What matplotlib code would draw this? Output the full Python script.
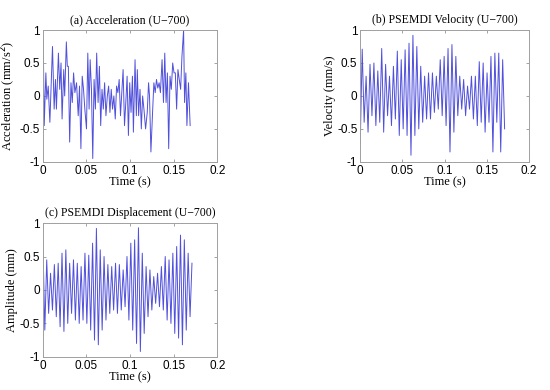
import numpy as np
import matplotlib.pyplot as plt

# (a) acceleration, extrema (time in s, value in mm/s^2)
acc_t = [0.0004, 0.0015, 0.0034, 0.0045, 0.0061, 0.0080, 0.0110, 0.0129, 0.0144, 0.0155,
         0.0178, 0.0193, 0.0208, 0.0220, 0.0239, 0.0250, 0.0269, 0.0280, 0.0292, 0.0307,
         0.0322, 0.0337, 0.0352, 0.0367, 0.0386, 0.0405, 0.0420, 0.0436, 0.0451, 0.0466,
         0.0481, 0.0500, 0.0515, 0.0530, 0.0542, 0.0557, 0.0572, 0.0587, 0.0602, 0.0617,
         0.0633, 0.0648, 0.0663, 0.0678, 0.0693, 0.0708, 0.0723, 0.0739, 0.0754, 0.0769,
         0.0784, 0.0799, 0.0814, 0.0830, 0.0845, 0.0860, 0.0875, 0.0890, 0.0905, 0.0920,
         0.0936, 0.0951, 0.0966, 0.0981, 0.0996, 0.1011, 0.1027, 0.1038, 0.1057, 0.1072,
         0.1083, 0.1098, 0.1114, 0.1129, 0.1144, 0.1159, 0.1178, 0.1197, 0.1212, 0.1223,
         0.1239, 0.1258, 0.1273, 0.1288, 0.1303, 0.1318, 0.1333, 0.1348, 0.1367, 0.1383,
         0.1398, 0.1413, 0.1428, 0.1443, 0.1458, 0.1473, 0.1489, 0.1504, 0.1519, 0.1534,
         0.1549, 0.1564, 0.1580, 0.1595, 0.1614, 0.1625, 0.1640, 0.1652, 0.1670, 0.1689]
acc_v = [0.85, -0.45, 0.35, -0.05, 0.15, -0.4, 0.75, -0.2, 0.25, -0.2,
         0.65, 0.1, 0.5, -0.35, 0.4, 0.0, 0.82, 0.45, 0.45, -0.7,
         0.2, -0.1, 0.35, 0.05, 0.2, -0.3, 0.15, -0.8, 0.3, 0.1,
         -0.2, -0.5, 0.65, -0.2, 0.55, 0.1, -0.95, 0.25, -0.2, 0.65,
         -0.1, 0.45, -0.45, 0.1, -0.2, 0.2, -0.3, 0.0, 0.15, -0.25,
         0.1, -0.2, 0.0, -0.35, 0.15, 0.05, 0.25, -0.3, 0.05, 0.4,
         -0.45, -0.1, 0.3, -0.6, 0.2, -0.25, 0.3, -0.55, 0.55, -0.3,
         0.4, -0.3, 0.1, -0.5, 0.0, -0.2, -0.5, -0.25, 0.2, 0.0,
         -0.85, -0.25, 0.2, 0.05, 0.25, 0.12, 0.2, 0.05, 0.55, -0.1,
         0.65, -0.1, 0.35, -0.8, 0.3, 0.1, 0.5, 0.35, 0.35, -0.2,
         0.4, 0.25, 0.1, 0.6, 1.0, -0.1, 0.35, -0.45, 0.2, -0.45]

# (b) PSEMDI velocity, successive peaks/troughs (mm/s)
vel_v = [-0.72, 0.71, -0.4, 0.3, -0.55, 0.48, -0.3, 0.5, -0.45, 0.38,
         -0.4, 0.72, -0.55, 0.48, -0.3, 0.3, -0.45, 0.45, -0.35, 0.68,
         -0.6, 0.55, -0.5, 0.7, -0.6, 0.8, -0.9, 0.92, -0.6, 0.75,
         -0.5, 0.45, -0.4, 0.3, -0.35, 0.35, -0.35, 0.35, -0.25, 0.3,
         -0.2, 0.55, -0.3, 0.6, -0.45, 0.72, -0.85, 0.78, -0.55, 0.6,
         -0.3, 0.3, -0.2, 0.25, -0.3, 0.15, -0.2, 0.3, -0.35, 0.3,
         -0.45, 0.52, -0.4, 0.5, -0.55, 0.35, -0.4, 0.6, -0.85, 0.65,
         -0.4, 0.65, -0.85, 0.55, -0.5]

# (c) PSEMDI displacement, peaks (40) and the troughs between them (39), mm
disp_pk = [0.72, 0.45, 0.25, 0.38, 0.40, 0.55, 0.60, 0.40, 0.45, 0.40,
           0.35, 0.55, 0.52, 0.70, 0.92, 0.60, 0.50, 0.38, 0.35, 0.40,
           0.38, 0.30, 0.50, 0.70, 0.75, 0.93, 0.55, 0.35, 0.30, 0.20,
           0.25, 0.35, 0.50, 0.45, 0.55, 0.65, 0.82, 0.75, 0.55, 0.40]
disp_tr = [-0.60, -0.35, -0.30, -0.40, -0.55, -0.62, -0.50, -0.35, -0.45, -0.50,
           -0.45, -0.50, -0.60, -0.75, -0.82, -0.60, -0.45, -0.35, -0.30, -0.35,
           -0.30, -0.25, -0.45, -0.60, -0.80, -0.92, -0.65, -0.40, -0.30, -0.20,
           -0.25, -0.30, -0.45, -0.50, -0.65, -0.72, -0.82, -0.60, -0.40]
t_end = 0.171

xticks = [0, 0.05, 0.1, 0.15, 0.2]
xtick_labels = ['0', '0.05', '0.1', '0.15', '0.2']
yticks = [-1, -0.5, 0, 0.5, 1]
ytick_labels = ['-1', '-0.5', '0', '0.5', '1']

line_col = '#5050dc'
serif = 'Liberation Serif'
sans = 'Liberation Sans'

vel_t = np.linspace(0, t_end, len(vel_v))
disp_v = [v for pair in zip(disp_pk, disp_tr) for v in pair] + [disp_pk[-1]]
disp_t = np.linspace(0, t_end, len(disp_v))

fig = plt.figure(figsize=(5.5, 3.9), dpi=100)
ax_a = fig.add_axes([0.078, 0.585, 0.317, 0.338])
ax_b = fig.add_axes([0.655, 0.585, 0.307, 0.338])
ax_c = fig.add_axes([0.078, 0.085, 0.317, 0.343])

panels = [
    (ax_a, acc_t, acc_v, '(a) Acceleration (U\u2212700)', 'Acceleration (mm/s$^2$)'),
    (ax_b, vel_t, vel_v, '(b) PSEMDI Velocity (U\u2212700)', 'Velocity (mm/s)'),
    (ax_c, disp_t, disp_v, '(c) PSEMDI Displacement (U\u2212700)', 'Amplitude (mm)'),
]

for ax, t, v, title, ylab in panels:
    ax.plot(t, v, color=line_col, lw=0.7)
    ax.set_xlim(0, 0.2)
    ax.set_ylim(-1, 1)
    ax.set_xticks(xticks)
    ax.set_xticklabels(xtick_labels, fontfamily=sans, fontsize=8.5)
    ax.set_yticks(yticks)
    ax.set_yticklabels(ytick_labels, fontfamily=sans, fontsize=8.5)
    ax.tick_params(direction='in', length=2.5, width=0.5, color='#808080',
                   top=True, right=True, pad=2)
    for s in ax.spines.values():
        s.set_color('#a0a0a0')
        s.set_linewidth(0.7)
    ax.set_title(title, fontfamily=serif, fontsize=8.5, pad=5)
    ax.set_xlabel('Time (s)', fontfamily=serif, fontsize=9, labelpad=0)
    ax.set_ylabel(ylab, fontfamily=serif, fontsize=9, labelpad=1)

fig.savefig('out.png', dpi=100)
